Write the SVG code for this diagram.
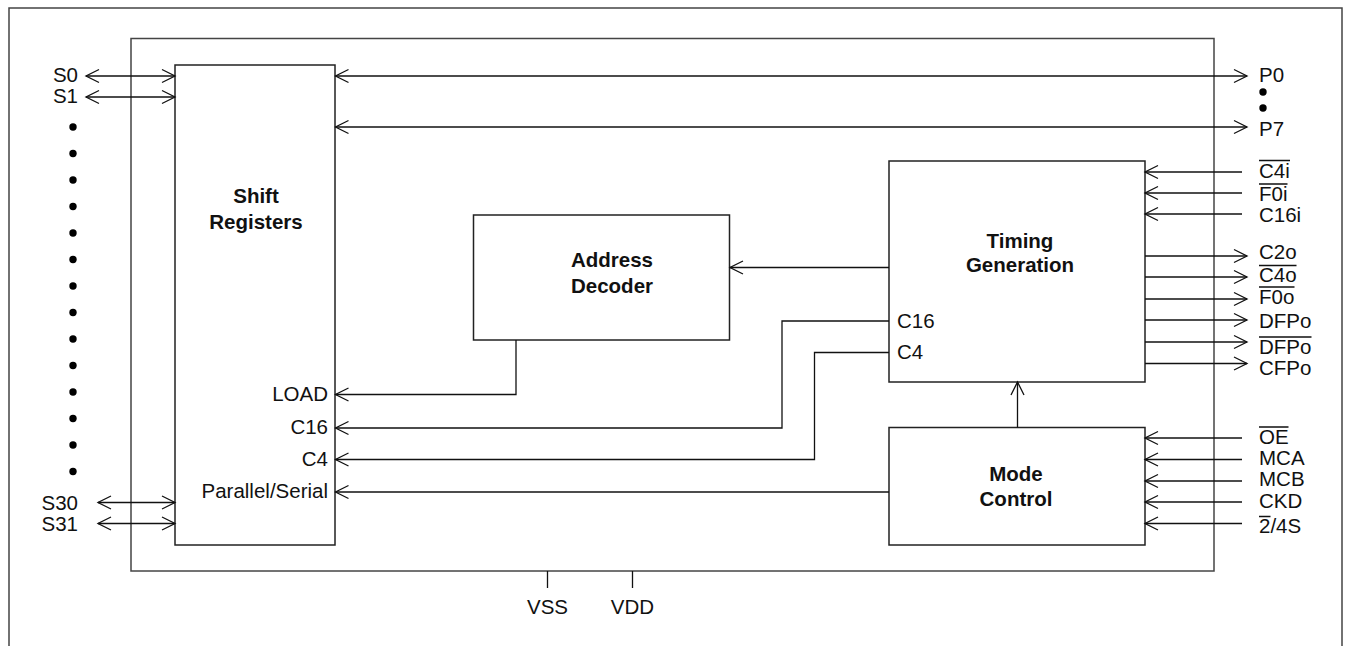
<svg xmlns="http://www.w3.org/2000/svg" width="1346" height="646" viewBox="0 0 1346 646">
<style>
text{font-family:"Liberation Sans",Arial,sans-serif;font-size:20.5px;fill:#111}
.b{font-weight:bold;text-anchor:middle}
.r{text-anchor:end}
.m{text-anchor:middle}
.ol{fill:none;stroke:#111;stroke-width:1.3}
.box{fill:none;stroke:#222;stroke-width:1.5}
.frame{fill:none;stroke:#444;stroke-width:1.5}
.w{fill:none;stroke:#111;stroke-width:1.3}
.e{marker-end:url(#ah)}
.be{marker-start:url(#ah);marker-end:url(#ah)}
.dot{fill:#000}
</style>
<defs>
<marker id="ah" viewBox="-15 -8 17 16" refX="0" refY="0" markerWidth="17" markerHeight="16" markerUnits="userSpaceOnUse" orient="auto-start-reverse">
<path d="M-13,-6.5 L0,0 L-13,6.5" fill="none" stroke="#111" stroke-width="1.3"/>
</marker>
</defs>
<path class="frame" d="M9,646 V8 H1342 V646"/>
<rect id="chip" class="frame" x="131" y="38.5" width="1083" height="532.5"/>

<g id="shift-registers">
<rect class="box" x="175" y="65" width="160" height="480"/>
<text class="b" x="256" y="203">Shift</text>
<text class="b" x="256" y="229">Registers</text>
<text class="r" x="328" y="401">LOAD</text>
<text class="r" x="328" y="434">C16</text>
<text class="r" x="328" y="465.5">C4</text>
<text class="r" x="328" y="497.5">Parallel/Serial</text>
</g>

<g id="address-decoder">
<rect class="box" x="473.5" y="215" width="256" height="125"/>
<text class="b" x="612" y="267">Address</text>
<text class="b" x="612" y="293">Decoder</text>
</g>

<g id="timing-generation">
<rect class="box" x="889" y="161" width="256" height="221"/>
<text class="b" x="1020" y="247.5">Timing</text>
<text class="b" x="1020" y="272">Generation</text>
<text x="897" y="328">C16</text>
<text x="897" y="359">C4</text>
</g>

<g id="mode-control">
<rect class="box" x="889" y="427.5" width="256" height="117.5"/>
<text class="b" x="1016" y="481">Mode</text>
<text class="b" x="1016" y="506">Control</text>
</g>

<g id="connectors">
<path class="w be" d="M86,76 H175"/>
<path class="w be" d="M86,97 H175"/>
<path class="w be" d="M98,502.5 H175"/>
<path class="w be" d="M98,523.5 H175"/>
<path class="w be" d="M335.5,76 H1247"/>
<path class="w be" d="M335.5,127 H1247"/>
<path class="w e" d="M889,267.5 H730"/>
<path class="w e" d="M516,340 V394.5 H335.5"/>
<path class="w e" d="M889,321 H782 V428 H335.5"/>
<path class="w e" d="M889,352.5 H814.5 V459.5 H335.5"/>
<path class="w e" d="M889,492 H335.5"/>
<path class="w e" d="M1017.5,427.5 V382"/>
<path class="w e" d="M1242,172 H1145"/>
<path class="w e" d="M1242,193 H1145"/>
<path class="w e" d="M1242,214 H1145"/>
<path class="w e" d="M1145,256 H1247"/>
<path class="w e" d="M1145,277 H1247"/>
<path class="w e" d="M1145,299 H1247"/>
<path class="w e" d="M1145,320 H1247"/>
<path class="w e" d="M1145,342 H1247"/>
<path class="w e" d="M1145,363.5 H1247"/>
<path class="w e" d="M1242,438 H1145"/>
<path class="w e" d="M1242,459.5 H1145"/>
<path class="w e" d="M1242,481 H1145"/>
<path class="w e" d="M1242,502 H1145"/>
<path class="w e" d="M1242,523.5 H1145"/>
<path class="w" d="M547.5,571 V588 M632.5,571 V588"/>
</g>

<g id="left-pins">
<text class="r" x="78" y="82">S0</text>
<text class="r" x="78" y="103">S1</text>
<text class="r" x="78" y="509.5">S30</text>
<text class="r" x="78" y="531">S31</text>
<g class="dot">
<circle cx="73" cy="127" r="3.7"/><circle cx="73" cy="153.5" r="3.7"/><circle cx="73" cy="180" r="3.7"/><circle cx="73" cy="206.5" r="3.7"/><circle cx="73" cy="233" r="3.7"/><circle cx="73" cy="259.5" r="3.7"/><circle cx="73" cy="286" r="3.7"/><circle cx="73" cy="312.5" r="3.7"/><circle cx="73" cy="339" r="3.7"/><circle cx="73" cy="365.5" r="3.7"/><circle cx="73" cy="392" r="3.7"/><circle cx="73" cy="418.5" r="3.7"/><circle cx="73" cy="445" r="3.7"/><circle cx="73" cy="471.5" r="3.7"/>
</g>
</g>

<g id="right-pins">
<text x="1259" y="82">P0</text>
<circle class="dot" cx="1263" cy="92" r="3.7"/>
<circle class="dot" cx="1263" cy="108" r="3.7"/>
<text x="1259" y="136">P7</text>
<text x="1259" y="177.5">C4i</text>
<text x="1259" y="200.5">F0i</text>
<text x="1259" y="222">C16i</text>
<text x="1259" y="259">C2o</text>
<text x="1259" y="282">C4o</text>
<text x="1259" y="303.5">F0o</text>
<text x="1259" y="328">DFPo</text>
<text x="1259" y="353.5">DFPo</text>
<text x="1259" y="375">CFPo</text>
<text x="1259" y="443.5">OE</text>
<text x="1259" y="465">MCA</text>
<text x="1259" y="486">MCB</text>
<text x="1259" y="508">CKD</text>
<text x="1259" y="533">2/4S</text>
<path class="ol" d="M1259,160.5 h31 M1259,184 h28.5 M1259,265.5 h37.5 M1259,287 h35.5 M1259,337 h52.5 M1259,427 h29.5 M1259,516.5 h11.5"/>
</g>

<g id="power-pins">
<text class="m" x="547.5" y="614">VSS</text>
<text class="m" x="632.5" y="614">VDD</text>
</g>
</svg>
